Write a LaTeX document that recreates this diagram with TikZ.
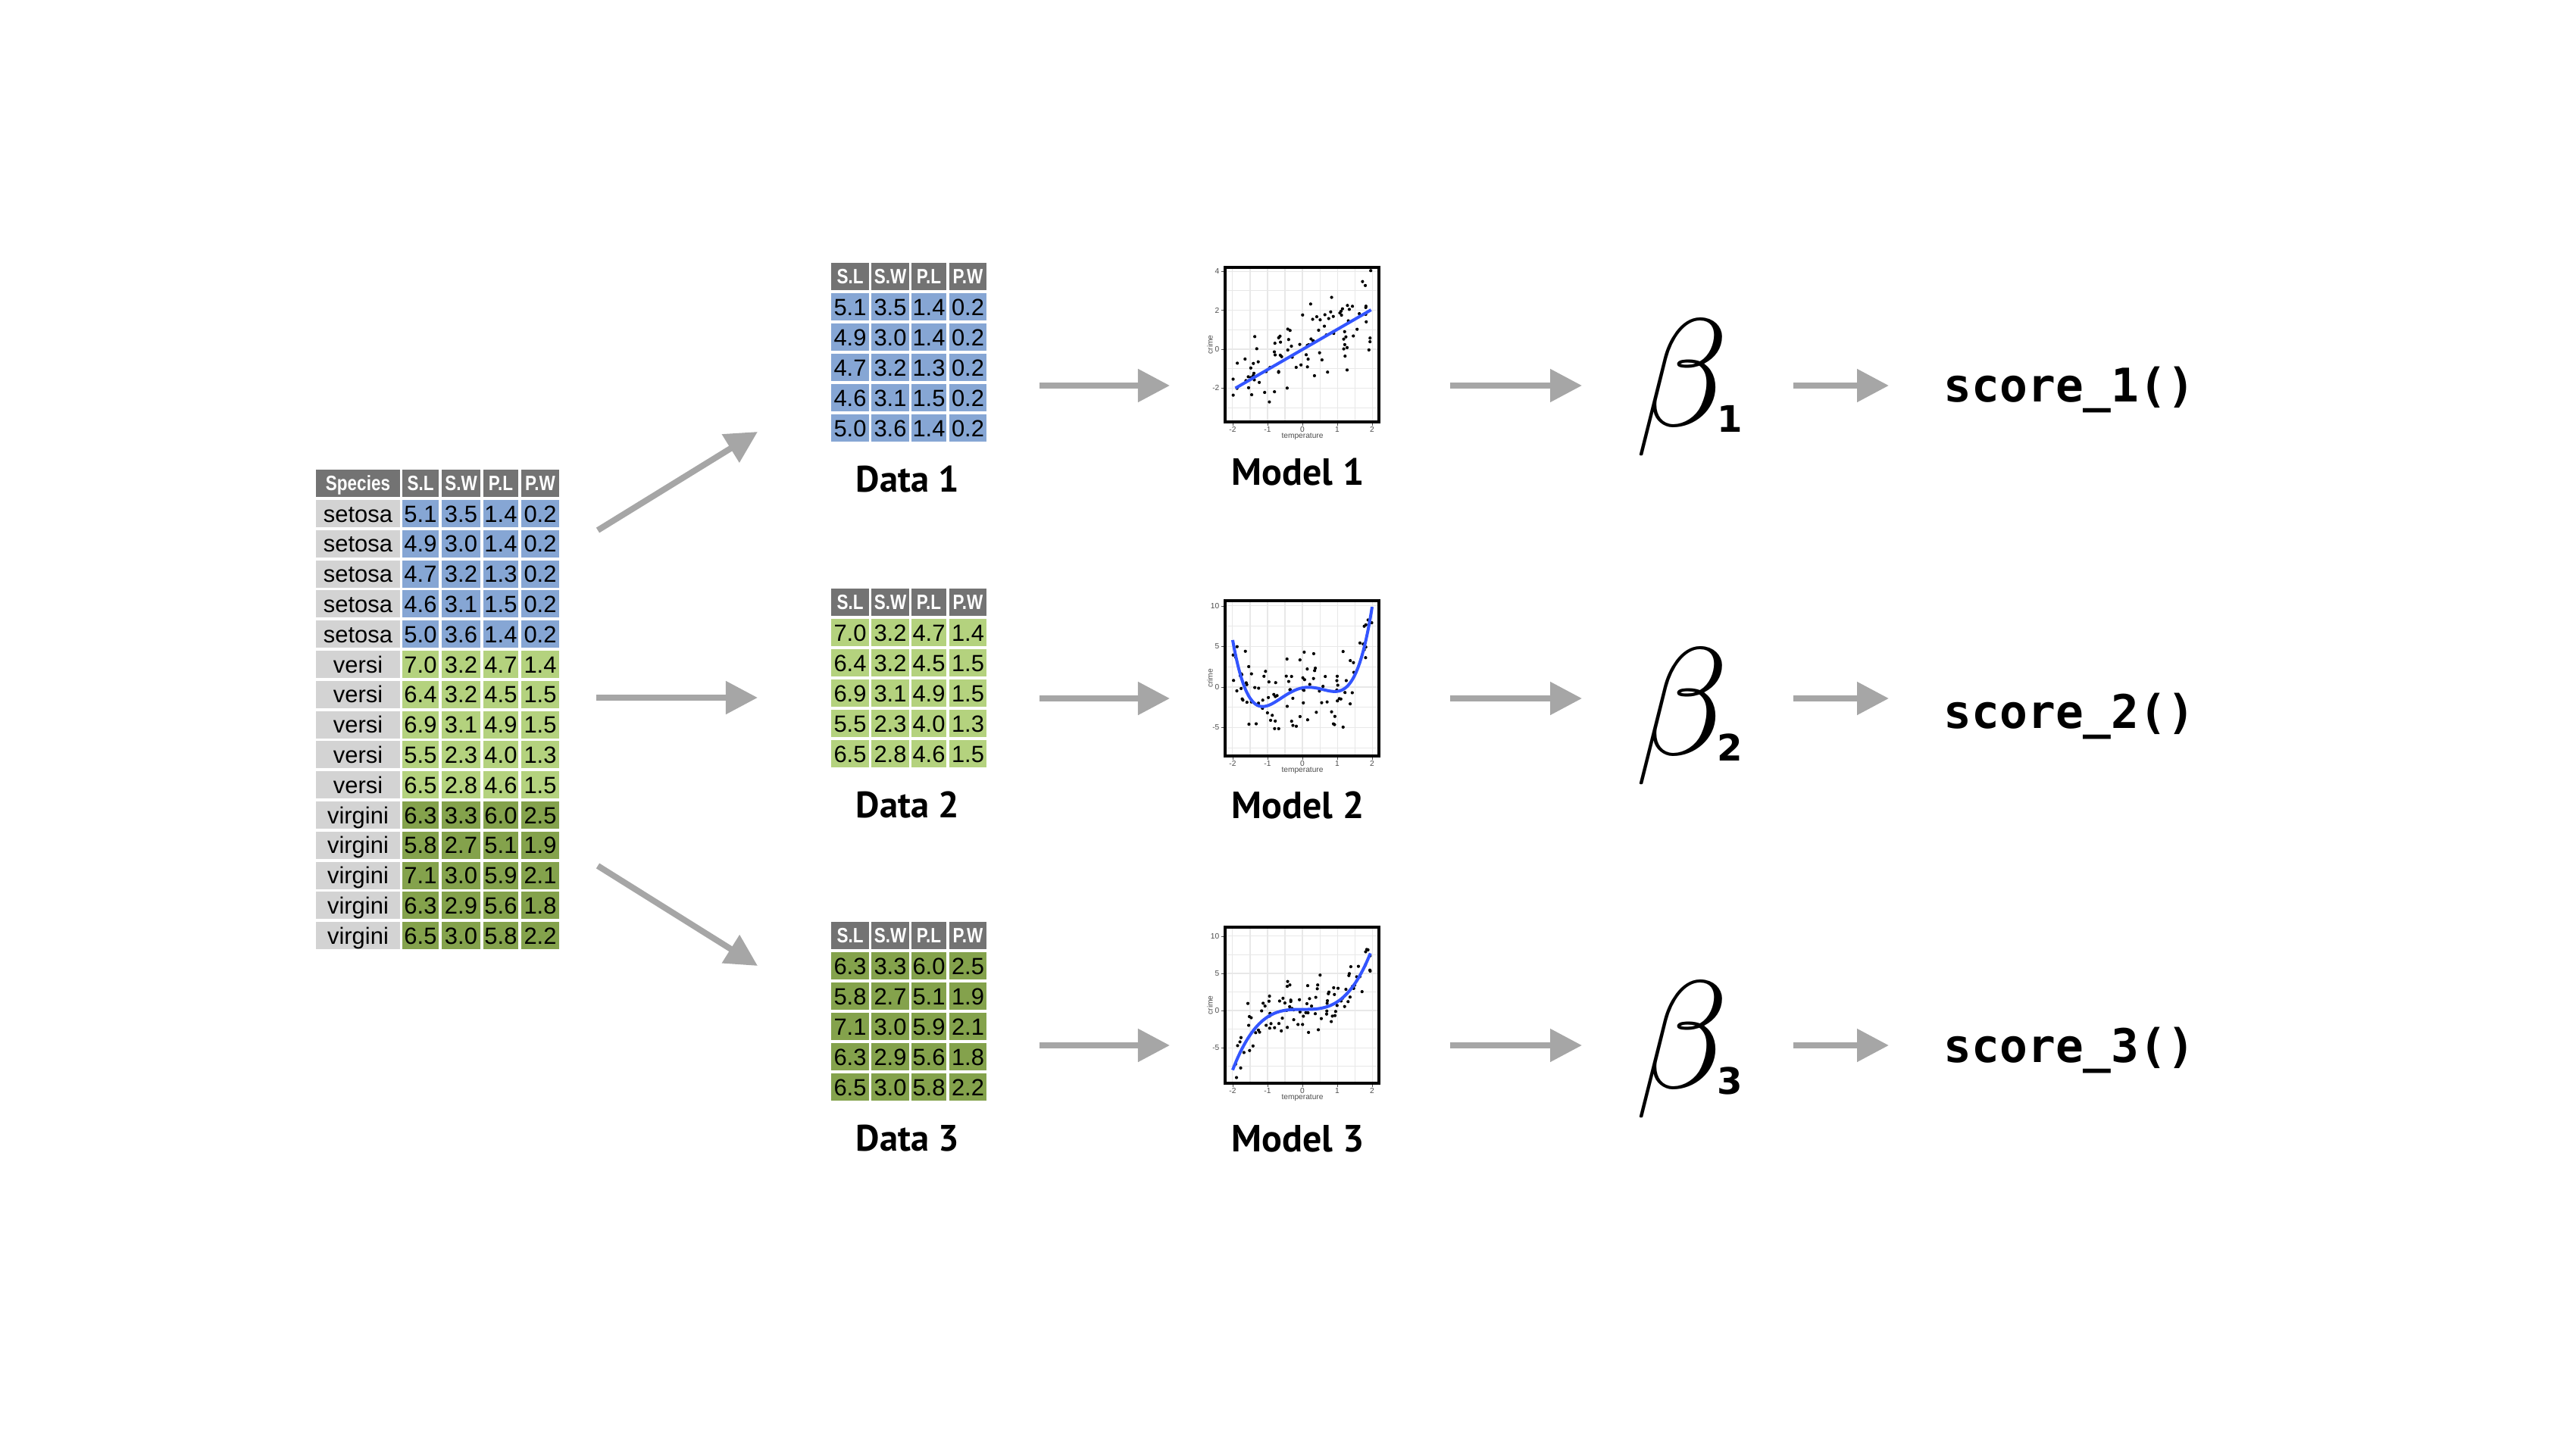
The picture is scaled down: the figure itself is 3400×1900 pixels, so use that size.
\RequirePackage{fix-cm}
\documentclass[tikz,border=0pt]{standalone}
\usepackage{fontspec}
\setmainfont{Liberation Sans}
\newfontfamily\hdrfont[FakeStretch=0.82]{Liberation Sans}
\newfontfamily\lblfont{PT Sans}
\newfontfamily\codefont{DejaVu Sans Mono}
\newfontfamily\subfont{DejaVu Sans}
\usetikzlibrary{arrows.meta}
\definecolor{hdr}{RGB}{115,115,115}
\definecolor{spg}{RGB}{211,211,211}
\definecolor{cblue}{RGB}{134,166,212}
\definecolor{clgreen}{RGB}{180,210,126}
\definecolor{cdgreen}{RGB}{132,162,76}
\definecolor{arrowgray}{RGB}{166,166,166}
\definecolor{fitblue}{RGB}{51,85,255}
\definecolor{gridgray}{RGB}{232,232,232}
\definecolor{ticktext}{RGB}{77,77,77}

\tikzset{
  cellbox/.style={inner sep=0pt, outer sep=0pt, text height=6.3pt, text depth=0pt,
    font=\fontsize{8.8}{9}\selectfont},
  hdrbox/.style={inner sep=0pt, outer sep=0pt, fill=hdr, text=white, text height=5.6pt,
    text depth=0pt, font=\hdrfont\bfseries\fontsize{7.8}{8}\selectfont},
  grayarrow/.style={draw=arrowgray, line width=2.28pt,
    -{Triangle[width=11.95pt,length=11.95pt]}},
  plotbox/.style={draw=black, line width=1.14pt, inner sep=0pt, outer sep=0pt,
    minimum width=2.03cm},
  ticklbl/.style={inner sep=0pt, text=ticktext, font=\fontsize{2.9}{3}\selectfont},
  tickmark/.style={draw=ticktext, line width=0.25pt},
  gridline/.style={draw=gridgray, line width=0.3pt},
  fitline/.style={draw=fitblue, line width=1.14pt},
  datalbl/.style={anchor=base, inner sep=0pt, font=\lblfont\bfseries\fontsize{13.8}{15}\selectfont},
  modellbl/.style={anchor=base, inner sep=0pt, font=\lblfont\bfseries\fontsize{14.2}{15}\selectfont},
  betalbl/.style={anchor=base west, inner sep=0pt, font=\fontsize{57.7}{60}\selectfont},
  sublbl/.style={anchor=base west, inner sep=0pt, font=\subfont\bfseries\fontsize{13.7}{15}\selectfont},
  codelbl/.style={anchor=base west, inner sep=0pt, font=\codefont\bfseries\fontsize{17.4}{19}\selectfont},
}

% name, x1, x2, y1, y2, style, text
\newcommand\tcell[7]{%
  \pgfmathsetmacro\tcW{((#3)-(#2))*0.01}%
  \pgfmathsetmacro\tcH{((#5)-(#4))*0.01}%
  \pgfmathsetmacro\tcX{((#2)+(#3))/2}%
  \pgfmathsetmacro\tcY{((#4)+(#5))/2}%
  \node[#6, minimum width=\tcW cm, minimum height=\tcH cm] (#1) at (\tcX,\tcY) {#7};}

% prefix, ytop, colour, rows
\newcommand\datatable[4]{%
  \tcell{#1h1}{1097}{1147}{#2}{#2+36}{hdrbox}{S.L}
  \tcell{#1h2}{1150}{1200}{#2}{#2+36}{hdrbox}{S.W}
  \tcell{#1h3}{1203}{1249}{#2}{#2+36}{hdrbox}{P.L}
  \tcell{#1h4}{1253}{1302}{#2}{#2+36}{hdrbox}{P.W}
  \foreach \r/\va/\vb/\vc/\vd in {#4} {
    \pgfmathsetmacro\yt{#2+40*\r}
    \pgfmathsetmacro\yb{\yt+36}
    \tcell{#1\r-1}{1097}{1147}{\yt}{\yb}{cellbox, fill=#3}{\va}
    \tcell{#1\r-2}{1150}{1200}{\yt}{\yb}{cellbox, fill=#3}{\vb}
    \tcell{#1\r-3}{1203}{1249}{\yt}{\yb}{cellbox, fill=#3}{\vc}
    \tcell{#1\r-4}{1253}{1302}{\yt}{\yb}{cellbox, fill=#3}{\vd}
  }}

% axis decorations in pixel coordinates: top, bottom, y0, yunit, ytick list
\newcommand\plotaxes[5]{%
  \foreach \t in {-2,-1,0,1,2} {
    \pgfmathsetmacro\tx{1719+46*\t}
    \draw[tickmark] (\tx,#2+2) -- (\tx,#2+5);
    \node[ticklbl] at (\tx,#2+10) {\t};
  }
  \node[ticklbl] at (1719,#2+19) {temperature};
  \foreach \t in {#5} {
    \pgfmathsetmacro\ty{#3-(#4)*\t}
    \draw[tickmark] (1615,\ty) -- (1612,\ty);
    \node[ticklbl, anchor=east] at (1610,\ty) {\t};
  }
  \node[ticklbl, rotate=90] at (1597,{((#1)+(#2))/2}) {crime};
}

\begin{document}
\begin{tikzpicture}[x=0.01cm, y=-0.01cm]
\useasboundingbox (0,0) rectangle (3400,1900);

%---------------- big table ----------------
\tcell{Th0}{417}{528}{620}{656}{hdrbox}{Species}
\tcell{Th1}{531}{579}{620}{656}{hdrbox}{S.L}
\tcell{Th2}{583}{634}{620}{656}{hdrbox}{S.W}
\tcell{Th3}{638}{684}{620}{656}{hdrbox}{P.L}
\tcell{Th4}{688}{738}{620}{656}{hdrbox}{P.W}
\foreach \r/\spc/\va/\vb/\vc/\vd/\col in {
 1/setosa/5.1/3.5/1.4/0.2/cblue,
 2/setosa/4.9/3.0/1.4/0.2/cblue,
 3/setosa/4.7/3.2/1.3/0.2/cblue,
 4/setosa/4.6/3.1/1.5/0.2/cblue,
 5/setosa/5.0/3.6/1.4/0.2/cblue,
 6/versi/7.0/3.2/4.7/1.4/clgreen,
 7/versi/6.4/3.2/4.5/1.5/clgreen,
 8/versi/6.9/3.1/4.9/1.5/clgreen,
 9/versi/5.5/2.3/4.0/1.3/clgreen,
 10/versi/6.5/2.8/4.6/1.5/clgreen,
 11/virgini/6.3/3.3/6.0/2.5/cdgreen,
 12/virgini/5.8/2.7/5.1/1.9/cdgreen,
 13/virgini/7.1/3.0/5.9/2.1/cdgreen,
 14/virgini/6.3/2.9/5.6/1.8/cdgreen,
 15/virgini/6.5/3.0/5.8/2.2/cdgreen}{
  \pgfmathsetmacro\yt{660+(\r-1)*39.8}
  \pgfmathsetmacro\yb{\yt+36}
  \tcell{T\r-0}{417}{528}{\yt}{\yb}{cellbox, fill=spg}{\spc}
  \tcell{T\r-1}{531}{579}{\yt}{\yb}{cellbox, fill=\col}{\va}
  \tcell{T\r-2}{583}{634}{\yt}{\yb}{cellbox, fill=\col}{\vb}
  \tcell{T\r-3}{638}{684}{\yt}{\yb}{cellbox, fill=\col}{\vc}
  \tcell{T\r-4}{688}{738}{\yt}{\yb}{cellbox, fill=\col}{\vd}
}

%---------------- data tables ----------------
\datatable{A}{347}{cblue}{1/5.1/3.5/1.4/0.2, 2/4.9/3.0/1.4/0.2, 3/4.7/3.2/1.3/0.2, 4/4.6/3.1/1.5/0.2, 5/5.0/3.6/1.4/0.2}
\datatable{B}{777}{clgreen}{1/7.0/3.2/4.7/1.4, 2/6.4/3.2/4.5/1.5, 3/6.9/3.1/4.9/1.5, 4/5.5/2.3/4.0/1.3, 5/6.5/2.8/4.6/1.5}
\datatable{C}{1217}{cdgreen}{1/6.3/3.3/6.0/2.5, 2/5.8/2.7/5.1/1.9, 3/7.1/3.0/5.9/2.1, 4/6.3/2.9/5.6/1.8, 5/6.5/3.0/5.8/2.2}

\node[datalbl] (D1) at (1198,649) {Data 1};
\node[datalbl] (D2) at (1198,1079) {Data 2};
\node[datalbl] (D3) at (1198,1519) {Data 3};

%---------------- model 1 ----------------
\begin{scope}[shift={(1719,461)}, x=0.46cm, y=0.257cm]
  \clip (-2.217,4.2) rectangle (2.196,-3.735);
  \foreach \g in {-2,-1.5,...,2} \draw[gridline] (\g,-5) -- (\g,5);
  \foreach \g in {-3,-2,...,4} \draw[gridline] (-3,\g) -- (3,\g);
  \pgfmathsetseed{11}
  \foreach \i in {1,...,100} {
    \pgfmathsetmacro\ptx{2*rand}
    \pgfmathsetmacro\pty{\ptx+1.0*(rand+rand+rand)}
    \fill (\ptx,\pty) circle[radius=0.6pt];
  }
  \draw[fitline] (-1.92,-2.0) -- (1.97,2.02);
\end{scope}
\node[plotbox, minimum height=2.04cm] (M1) at (1718.5,455) {};
\plotaxes{353}{557}{461}{25.7}{-2,0,2,4}

%---------------- model 2 ----------------
\begin{scope}[shift={(1719,907)}, x=0.46cm, y=0.107cm]
  \clip (-2.217,10.65) rectangle (2.196,-8.5);
  \foreach \g in {-2,-1.5,...,2} \draw[gridline] (\g,-12) -- (\g,12);
  \foreach \g in {-7.5,-5,...,10} \draw[gridline] (-3,\g) -- (3,\g);
  \pgfmathsetseed{23}
  \foreach \i in {1,...,100} {
    \pgfmathsetmacro\ptx{2*rand}
    \pgfmathsetmacro\pty{1.1007*\ptx*\ptx*\ptx*\ptx+0.0465*\ptx*\ptx*\ptx-2.4153*\ptx*\ptx+0.839*\ptx-0.1+2.3*(rand+rand+rand)}
    \fill (\ptx,\pty) circle[radius=0.6pt];
  }
  \draw[fitline, domain=-2:2, samples=80, smooth] plot (\x,{1.1007*\x*\x*\x*\x+0.0465*\x*\x*\x-2.4153*\x*\x+0.839*\x-0.1});
\end{scope}
\node[plotbox, minimum height=2.05cm] (M2) at (1718.5,895.5) {};
\plotaxes{793}{998}{907}{10.7}{-5,0,5,10}

%---------------- model 3 ----------------
\begin{scope}[shift={(1719,1334)}, x=0.46cm, y=0.098cm]
  \clip (-2.217,11.2) rectangle (2.196,-9.8);
  \foreach \g in {-2,-1.5,...,2} \draw[gridline] (\g,-12) -- (\g,12);
  \foreach \g in {-7.5,-5,...,10} \draw[gridline] (-3,\g) -- (3,\g);
  \pgfmathsetseed{7}
  \foreach \i in {1,...,100} {
    \pgfmathsetmacro\ptx{2*rand}
    \pgfmathsetmacro\pty{1.02*\ptx*\ptx*\ptx+0.15+1.9*(rand+rand+rand)}
    \fill (\ptx,\pty) circle[radius=0.6pt];
  }
  \draw[fitline, domain=-2:1.95, samples=80, smooth] plot (\x,{1.02*\x*\x*\x+0.15});
\end{scope}
\node[plotbox, minimum height=2.06cm] (M3) at (1718.5,1327) {};
\plotaxes{1224}{1430}{1334}{9.8}{-5,0,5,10}

\node[modellbl] (ML1) at (1713,640) {Model 1};
\node[modellbl] (ML2) at (1713,1080) {Model 2};
\node[modellbl] (ML3) at (1713,1520) {Model 3};

%---------------- betas ----------------
\node[betalbl] (B1) at (2158,562) {$\beta$};
\node[betalbl] (B2) at (2158,996) {$\beta$};
\node[betalbl] (B3) at (2158,1436) {$\beta$};
\node[sublbl] (BS1) at (2266,570) {1};
\node[sublbl] (BS2) at (2266,1004) {2};
\node[sublbl] (BS3) at (2266,1444) {3};

%---------------- scores ----------------
\node[codelbl] (S1) at (2565,530) {score\_1()};
\node[codelbl] (S2) at (2565,961) {score\_2()};
\node[codelbl] (S3) at (2565,1402) {score\_3()};

%---------------- arrows ----------------
\coordinate (t1) at (789,700);  \coordinate (d1) at (1000,570);
\coordinate (t2) at (787,921);  \coordinate (d2) at (1000,921);
\coordinate (t3) at (789,1143); \coordinate (d3) at (1000,1275);
\draw[grayarrow] (t1) -- (d1);
\draw[grayarrow] (t2) -- (d2);
\draw[grayarrow] (t3) -- (d3);

\foreach \k/\yy in {1/509, 2/922, 3/1380} {
  \coordinate (dm\k s) at (1372,\yy); \coordinate (dm\k e) at (1544,\yy);
  \coordinate (mb\k s) at (1914,\yy); \coordinate (mb\k e) at (2088,\yy);
  \coordinate (bs\k s) at (2367,\yy); \coordinate (bs\k e) at (2493,\yy);
  \draw[grayarrow] (dm\k s) -- (dm\k e);
  \draw[grayarrow] (mb\k s) -- (mb\k e);
  \draw[grayarrow] (bs\k s) -- (bs\k e);
}
\end{tikzpicture}
\end{document}
